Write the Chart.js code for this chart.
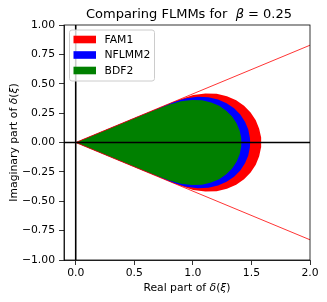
<!DOCTYPE html>
<html>
<head>
<meta charset="utf-8">
<script src="https://cdn.jsdelivr.net/npm/chart.js@4.4.1/dist/chart.umd.min.js"></script>
<style>
  html, body { margin: 0; padding: 0; background: #fff; }
  #wrap { width: 327px; height: 302px; }
</style>
</head>
<body>
<div id="wrap"><canvas id="grafico"></canvas></div>
<script>
// boundary of delta(xi) regions (closed loops)
const fam1X = [0, 0.582, 0.735, 0.886, 1.003, 1.107, 1.203, 1.291, 1.370, 1.437, 1.493, 1.537, 1.566, 1.582, 1.584, 1.582, 1.566, 1.537, 1.493, 1.437, 1.370, 1.291, 1.203, 1.107, 1.003, 0.886, 0.735, 0.582, 0];
const fam1Y = [0, -0.241, -0.305, -0.367, -0.404, -0.418, -0.414, -0.394, -0.359, -0.312, -0.255, -0.190, -0.118, -0.043, 0, 0.043, 0.118, 0.190, 0.255, 0.312, 0.359, 0.394, 0.414, 0.418, 0.404, 0.367, 0.305, 0.241, 0];

const nflmm2X = [0, 0.548, 0.691, 0.833, 0.944, 1.042, 1.133, 1.215, 1.288, 1.352, 1.405, 1.445, 1.473, 1.487, 1.489, 1.487, 1.473, 1.445, 1.405, 1.352, 1.288, 1.215, 1.133, 1.042, 0.944, 0.833, 0.691, 0.548, 0];
const nflmm2Y = [0, -0.227, -0.286, -0.345, -0.376, -0.389, -0.385, -0.367, -0.335, -0.291, -0.238, -0.177, -0.110, -0.040, 0, 0.040, 0.110, 0.177, 0.238, 0.291, 0.335, 0.367, 0.385, 0.389, 0.376, 0.345, 0.286, 0.227, 0];

const bdf2X = [0, 0.520, 0.657, 0.794, 0.899, 0.993, 1.078, 1.156, 1.225, 1.285, 1.335, 1.373, 1.399, 1.412, 1.414, 1.412, 1.399, 1.373, 1.335, 1.285, 1.225, 1.156, 1.078, 0.993, 0.899, 0.794, 0.657, 0.520, 0];
const bdf2Y = [0, -0.215, -0.271, -0.322, -0.351, -0.362, -0.359, -0.341, -0.312, -0.271, -0.221, -0.164, -0.103, -0.038, 0, 0.038, 0.103, 0.164, 0.221, 0.271, 0.312, 0.341, 0.359, 0.362, 0.351, 0.322, 0.271, 0.215, 0];

// sector lines |arg| = beta*pi/2
const wedgeX = [2, 0, 2];
const wedgeY = [0.828, 0, -0.828];

// black axes through the origin
const hLineX = [-0.1, 2];
const hLineY = [0, 0];
const vLineX = [0, 0];
const vLineY = [-1, 1];

const xTicks = [0, 0.5, 1, 1.5, 2];
const yTicks = [-1, -0.75, -0.5, -0.25, 0, 0.25, 0.5, 0.75, 1];

const FONT = "'DejaVu Sans', sans-serif";
const FS = 10.8;

function pts(xs, ys) {
    return xs.map((x, i) => ({ x: x, y: ys[i] }));
}

function fmt(v, d) {
    return (v < 0 ? "\u2212" : "") + Math.abs(v).toFixed(d);
}

// text with some italic pieces (mathtext look)
function drawRich(ctx, parts, cx, y, size) {
    let total = 0;
    parts.forEach(p => {
        ctx.font = (p[1] ? "italic " : "") + size + "px " + FONT;
        total += ctx.measureText(p[0]).width;
    });
    let x = cx - total / 2;
    parts.forEach(p => {
        ctx.font = (p[1] ? "italic " : "") + size + "px " + FONT;
        ctx.fillText(p[0], x, y);
        x += ctx.measureText(p[0]).width;
    });
}

const decor = {
    id: "decor",
    afterDraw(chart) {
        const ctx = chart.ctx;
        const ca = chart.chartArea;
        ctx.save();

        // frame
        ctx.strokeStyle = "#000";
        ctx.lineWidth = 0.8;
        ctx.strokeRect(ca.left, ca.top, ca.right - ca.left, ca.bottom - ca.top);

        ctx.fillStyle = "#000";
        ctx.textBaseline = "alphabetic";
        ctx.textAlign = "left";
        const cx = (ca.left + ca.right) / 2;

        drawRich(ctx, [["Comparing FLMMs for  ", false], ["\u03b2", true], [" = 0.25", false]], cx + 2, 18, 13);
        drawRich(ctx, [["Real part of ", false], ["\u03b4", true], ["(", false], ["\u03be", true], [")", false]], cx, 291, FS);

        ctx.save();
        ctx.translate(16.5, (ca.top + ca.bottom) / 2);
        ctx.rotate(-Math.PI / 2);
        drawRich(ctx, [["Imaginary part of ", false], ["\u03b4", true], ["(", false], ["\u03be", true], [")", false]], 0, 0, FS);
        ctx.restore();

        // legend, upper left
        const lx = 69.5, ly = 30, lw = 85, lh = 51;
        ctx.beginPath();
        ctx.roundRect(lx, ly, lw, lh, 2.5);
        ctx.fillStyle = "rgba(255,255,255,0.8)";
        ctx.fill();
        ctx.strokeStyle = "#cccccc";
        ctx.lineWidth = 1;
        ctx.stroke();

        const items = chart.data.datasets.filter(d => d.label);
        ctx.font = FS + "px " + FONT;
        ctx.textBaseline = "middle";
        items.forEach((d, i) => {
            const yc = 39.5 + i * 15.5;
            ctx.fillStyle = d.backgroundColor;
            ctx.fillRect(73.5, yc - 3.8, 22.5, 7.6);
            ctx.fillStyle = "#000";
            ctx.fillText(d.label, 104.5, yc + 0.5);
        });

        ctx.restore();
    }
};

const ctx = document.getElementById("grafico");

new Chart(ctx, {
    type: "line",
    data: {
        datasets: [
            {
                label: "FAM1",
                data: pts(fam1X, fam1Y),
                backgroundColor: "#ff0000",
                borderColor: "#ff0000",
                borderWidth: 0,
                fill: "shape",
                pointRadius: 0,
                tension: 0,
                order: 5
            },
            {
                label: "NFLMM2",
                data: pts(nflmm2X, nflmm2Y),
                backgroundColor: "#0000ff",
                borderColor: "#0000ff",
                borderWidth: 0,
                fill: "shape",
                pointRadius: 0,
                tension: 0,
                order: 4
            },
            {
                label: "BDF2",
                data: pts(bdf2X, bdf2Y),
                backgroundColor: "#008000",
                borderColor: "#008000",
                borderWidth: 0,
                fill: "shape",
                pointRadius: 0,
                tension: 0,
                order: 3
            },
            {
                data: pts(wedgeX, wedgeY),
                borderColor: "#ff0000",
                borderWidth: 0.8,
                fill: false,
                pointRadius: 0,
                tension: 0,
                order: 2
            },
            {
                data: pts(hLineX, hLineY),
                borderColor: "#000",
                borderWidth: 1.6,
                fill: false,
                pointRadius: 0,
                order: 1
            },
            {
                data: pts(vLineX, vLineY),
                borderColor: "#000",
                borderWidth: 1.6,
                fill: false,
                pointRadius: 0,
                order: 0
            }
        ]
    },
    options: {
        responsive: true,
        maintainAspectRatio: false,
        animation: false,
        events: [],
        layout: {
            padding: { top: 25, right: 17, bottom: 0, left: 0 }
        },
        plugins: {
            legend: { display: false },
            tooltip: { enabled: false },
            title: { display: false }
        },
        scales: {
            x: {
                type: "linear",
                min: -0.1,
                max: 2.0,
                afterBuildTicks: s => { s.ticks = xTicks.map(v => ({ value: v })); },
                afterFit: s => { s.height = 42; },
                ticks: {
                    callback: v => fmt(v, 1),
                    color: "#000",
                    font: { family: FONT, size: FS },
                    padding: 2,
                    maxRotation: 0
                },
                grid: {
                    drawOnChartArea: false,
                    drawTicks: true,
                    tickLength: 5,
                    color: "#000",
                    lineWidth: 0.8
                },
                border: { display: true, color: "#000", width: 0.8 }
            },
            y: {
                type: "linear",
                min: -1,
                max: 1,
                afterBuildTicks: s => { s.ticks = yTicks.map(v => ({ value: v })); },
                afterFit: s => { s.width = 64; },
                ticks: {
                    callback: v => fmt(v, 2),
                    color: "#000",
                    font: { family: FONT, size: FS },
                    padding: 4
                },
                grid: {
                    drawOnChartArea: false,
                    drawTicks: true,
                    tickLength: 5,
                    color: "#000",
                    lineWidth: 0.8
                },
                border: { display: true, color: "#000", width: 0.8 }
            }
        }
    },
    plugins: [decor]
});
</script>
</body>
</html>
